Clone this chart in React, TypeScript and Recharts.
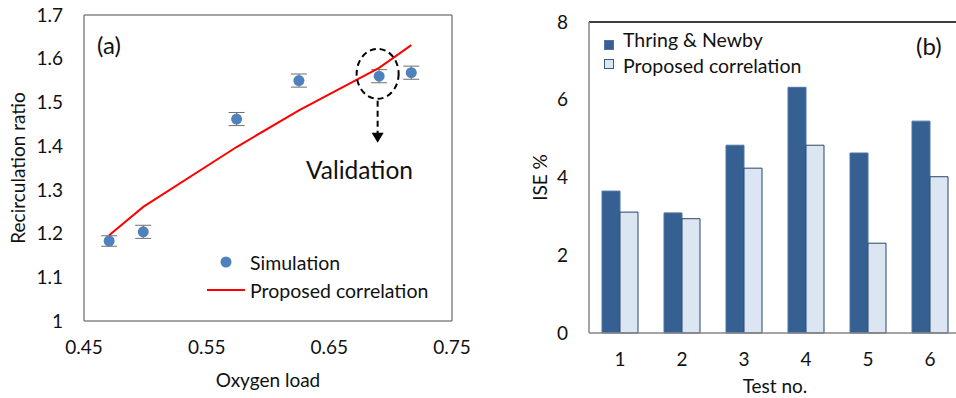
import {
  ScatterChart,
  Scatter,
  BarChart,
  Bar,
  XAxis,
  YAxis,
  ErrorBar,
  ReferenceLine,
  ReferenceDot,
  Label,
} from "recharts"

// (a) recirculation ratio vs oxygen load
const oxygenLoad = [0.4705, 0.4983, 0.5744, 0.6252, 0.6906, 0.7168]
const simulatedRatio = [1.183, 1.204, 1.462, 1.55, 1.56, 1.568]
const simulatedError = [0.012, 0.015, 0.015, 0.015, 0.015, 0.015]
const correlationRatio = [1.196, 1.261, 1.398, 1.482, 1.579, 1.631]
const ratioTicks = [1, 1.1, 1.2, 1.3, 1.4, 1.5, 1.6, 1.7]
const loadTicks = [0.45, 0.55, 0.65, 0.75]

// (b) ISE per test
const testNo = ["1", "2", "3", "4", "5", "6"]
const thringNewby = [3.65, 3.09, 4.83, 6.32, 4.63, 5.45]
const proposedIse = [3.11, 2.94, 4.24, 4.83, 2.31, 4.02]
const iseTicks = [0, 2, 4, 6, 8]

const FONT = "Lato, 'Open Sans', sans-serif"
const AXIS_GRAY = "#868686"
const TEXT = "#111"
const DOT_BLUE = "#4f81bd"
const DARK_BAR = "#376092"
const LIGHT_BAR = "#dce6f2"

const simulationData = oxygenLoad.map((x, i) => ({ x, y: simulatedRatio[i], err: simulatedError[i] }))
const correlationData = oxygenLoad.map((x, i) => ({ x, y: correlationRatio[i] }))
const iseData = testNo.map((test, i) => ({ test, thring: thringNewby[i], proposed: proposedIse[i] }))

function ValidationMark(props: any) {
  const cx = props.cx - 1.5
  const cy = props.cy - 2.4
  const tip = props.cy + 66.6
  return (
    <g>
      <ellipse cx={cx} cy={cy} rx={21} ry={25} fill="none" stroke="#000" strokeWidth={2} strokeDasharray="6 4" />
      <line x1={cx} y1={cy + 27} x2={cx} y2={tip - 9} stroke="#000" strokeWidth={2} strokeDasharray="6 4" />
      <polygon points={`${cx - 6},${tip - 10} ${cx + 6},${tip - 10} ${cx},${tip}`} fill="#000" />
    </g>
  )
}

function RatioChart() {
  return (
    <ScatterChart width={470} height={398} margin={{ top: 15, right: 18, bottom: 0, left: 0 }}>
      <XAxis
        type="number"
        dataKey="x"
        domain={[0.45, 0.75]}
        ticks={loadTicks}
        height={77}
        tickLine={false}
        tickSize={0}
        tickMargin={20}
        axisLine={{ stroke: AXIS_GRAY, strokeWidth: 1.5 }}
        tick={{ fill: TEXT, fontSize: 19 }}
      >
        <Label value="Oxygen load" position="insideBottom" offset={11} fill={TEXT} fontSize={19} />
      </XAxis>
      <YAxis
        type="number"
        dataKey="y"
        domain={[1, 1.7]}
        ticks={ratioTicks}
        width={84}
        tickLine={false}
        tickSize={0}
        tickMargin={21}
        tickFormatter={(v: number) => String(v)}
        axisLine={{ stroke: AXIS_GRAY, strokeWidth: 1.5 }}
        tick={{ fill: TEXT, fontSize: 19 }}
      >
        <Label
          value="Recirculation ratio"
          angle={-90}
          position="insideLeft"
          offset={18}
          fill={TEXT}
          fontSize={19}
          style={{ textAnchor: "middle" }}
        />
      </YAxis>
      <ReferenceLine y={1.7} stroke={AXIS_GRAY} strokeWidth={1.5} />
      <ReferenceLine x={0.75} stroke={AXIS_GRAY} strokeWidth={1.5} />
      <Scatter
        data={simulationData}
        dataKey="y"
        fill={DOT_BLUE}
        isAnimationActive={false}
        shape={(p: any) => <circle cx={p.cx} cy={p.cy} r={5.5} fill={DOT_BLUE} />}
      >
        <ErrorBar dataKey="err" direction="y" width={8} stroke="#6f6f6f" strokeWidth={1} />
      </Scatter>
      <Scatter
        data={correlationData}
        dataKey="y"
        line={{ stroke: "#ff0000", strokeWidth: 2 }}
        isAnimationActive={false}
        shape={() => <g />}
      />
      <ReferenceDot x={0.6906} y={1.56} ifOverflow="visible" shape={ValidationMark} />
    </ScatterChart>
  )
}

function IseChart() {
  return (
    <BarChart
      width={470}
      height={398}
      data={iseData}
      margin={{ top: 22, right: 9, bottom: 0, left: 0 }}
      barGap={0}
      barSize={18}
    >
      <XAxis
        dataKey="test"
        height={65}
        tickLine={false}
        tickSize={0}
        tickMargin={20}
        axisLine={{ stroke: AXIS_GRAY, strokeWidth: 1.5 }}
        tick={{ fill: TEXT, fontSize: 19 }}
      >
        <Label value="Test no." position="insideBottom" offset={5} fill={TEXT} fontSize={19} />
      </XAxis>
      <YAxis
        domain={[0, 8]}
        ticks={iseTicks}
        width={89}
        tickLine={false}
        tickSize={0}
        tickMargin={21}
        axisLine={{ stroke: AXIS_GRAY, strokeWidth: 1.5 }}
        tick={{ fill: TEXT, fontSize: 19 }}
      >
        <Label
          value="ISE %"
          angle={-90}
          position="insideLeft"
          offset={40}
          fill={TEXT}
          fontSize={19}
          style={{ textAnchor: "middle" }}
        />
      </YAxis>
      <ReferenceLine y={8} stroke="#000" strokeWidth={1.5} />
      <Bar dataKey="thring" fill={DARK_BAR} stroke="#4d74a6" strokeWidth={1} isAnimationActive={false} />
      <Bar dataKey="proposed" fill={LIGHT_BAR} stroke="#27446b" strokeWidth={1} isAnimationActive={false} />
    </BarChart>
  )
}

export default function App() {
  return (
    <div
      style={{
        position: "absolute",
        left: 0,
        top: 0,
        width: 956,
        height: 398,
        overflow: "hidden",
        background: "#fff",
        fontFamily: FONT,
      }}
    >
      <div style={{ position: "absolute", left: 0, top: 0 }}>
        <RatioChart />
      </div>
      <div style={{ position: "absolute", left: 500, top: 0 }}>
        <IseChart />
      </div>
      <svg
        width={956}
        height={398}
        style={{ position: "absolute", left: 0, top: 0, pointerEvents: "none" }}
        fontFamily={FONT}
      >
        {/* panel (a) annotations and legend */}
        <text x={97} y={44} fontSize={24} fill={TEXT} dominantBaseline="central">(a)</text>
        <text x={306} y={169} fontSize={24.5} fill={TEXT} dominantBaseline="central">Validation</text>
        <circle cx={226} cy={262} r={5.5} fill={DOT_BLUE} />
        <text x={250} y={262} fontSize={19.5} fill={TEXT} dominantBaseline="central">Simulation</text>
        <line x1={207} y1={290} x2={245} y2={290} stroke="#ff0000" strokeWidth={2} />
        <text x={250} y={290} fontSize={19.5} fill={TEXT} dominantBaseline="central">Proposed correlation</text>

        {/* panel (b) annotations and legend */}
        <text x={916} y={45} fontSize={24} fill={TEXT} dominantBaseline="central">(b)</text>
        <rect x={604.5} y={40.5} width={9} height={9} fill={DARK_BAR} stroke="#4d74a6" />
        <text x={623} y={39} fontSize={19.5} fill={TEXT} dominantBaseline="central">Thring &amp; Newby</text>
        <rect x={604.5} y={59.5} width={9} height={9} fill={LIGHT_BAR} stroke="#385d8a" />
        <text x={623} y={65} fontSize={19.5} fill={TEXT} dominantBaseline="central">Proposed correlation</text>
      </svg>
    </div>
  )
}
